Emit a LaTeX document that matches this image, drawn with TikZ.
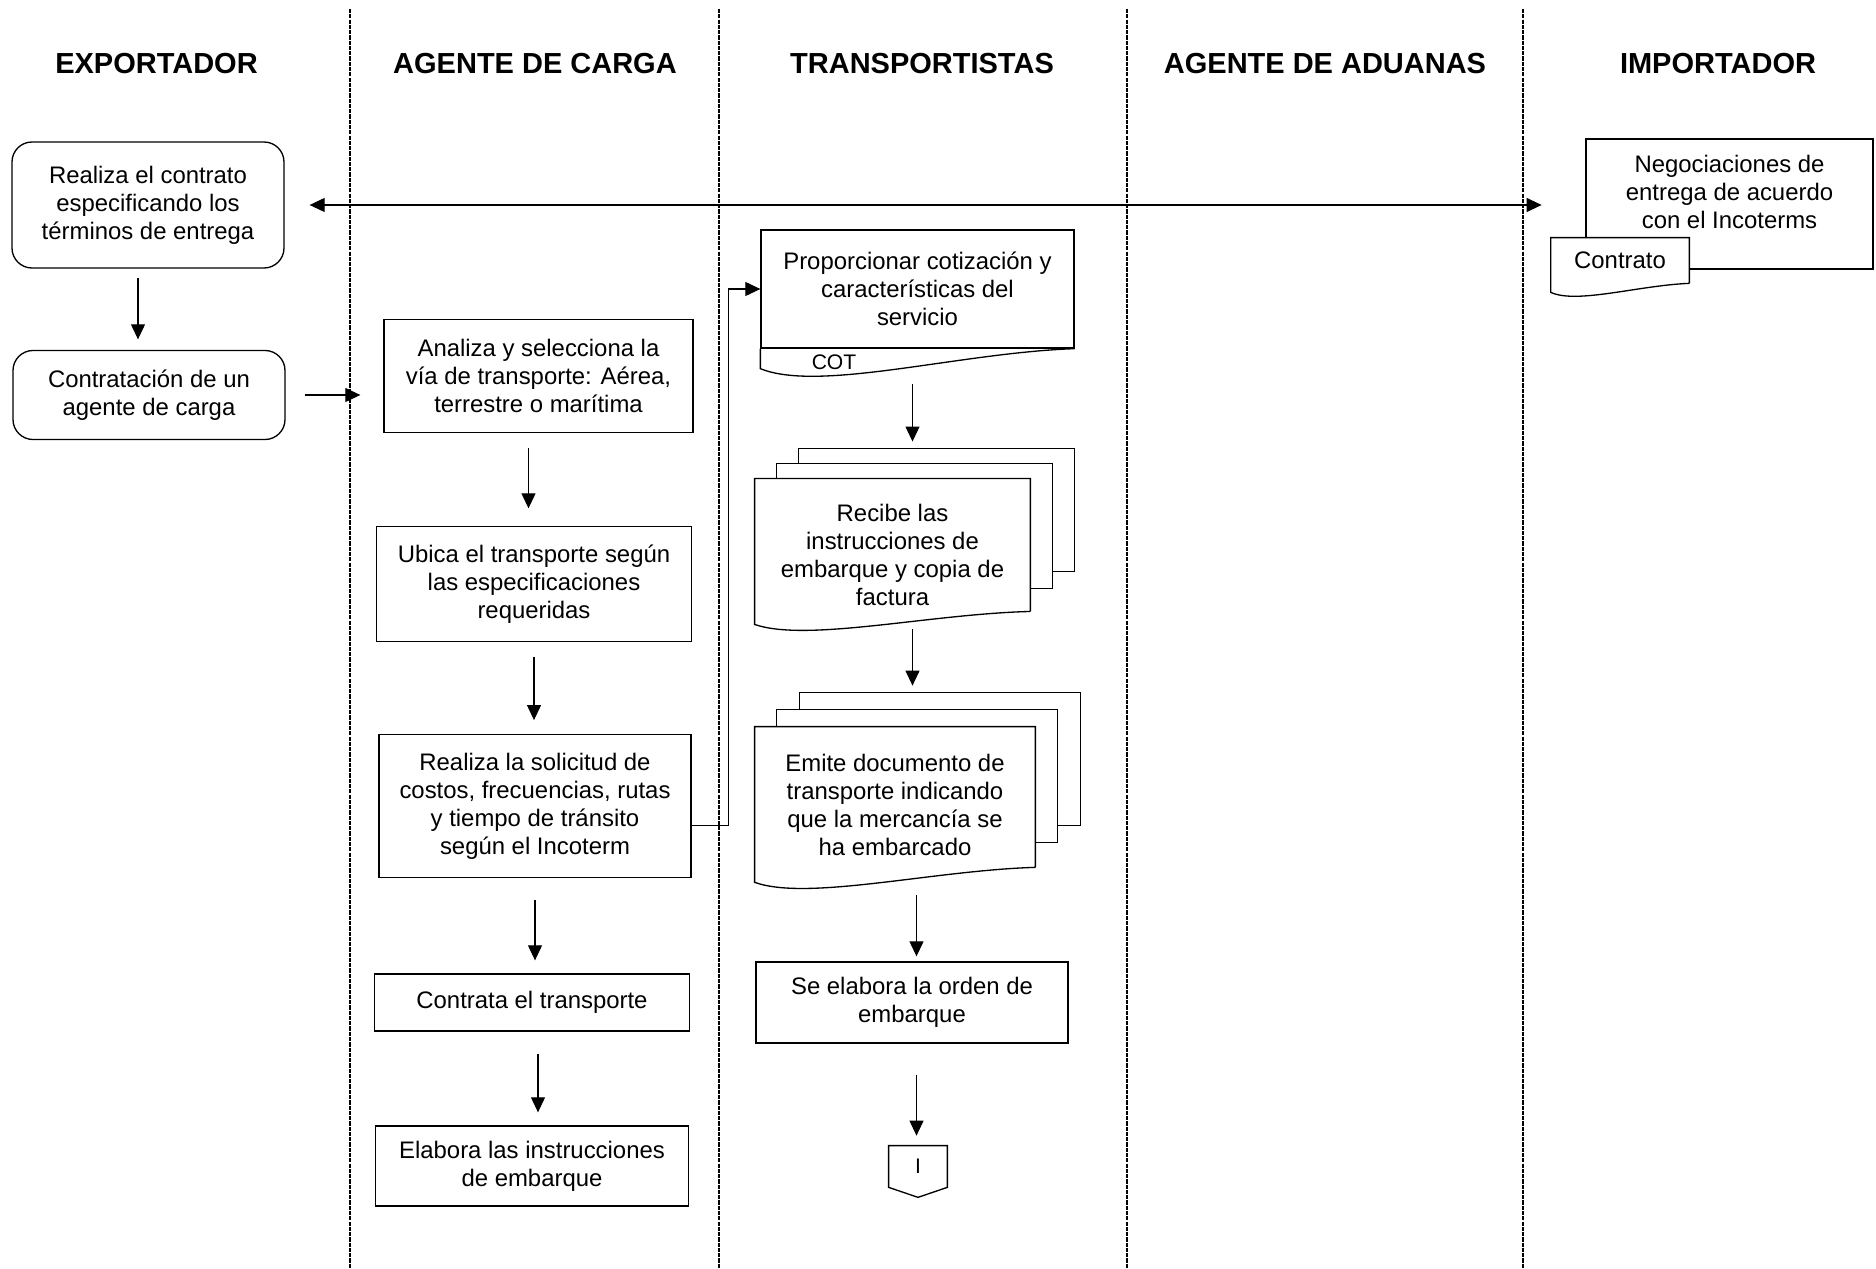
\documentclass[tikz,border=0pt]{standalone}
\usepackage{fontspec}
\setmainfont{Liberation Sans}
\usepackage{tikz}
\usetikzlibrary{arrows.meta, positioning, calc}

\begin{document}
\begin{tikzpicture}[
        carril/.style={line width=1.2pt, dash pattern=on 2.4pt off 0.6pt},
        titulo/.style={font=\fontsize{16.5}{19}\selectfont\bfseries},
        proceso/.style={draw, line width=0.75pt, align=center, font=\fontsize{13.6}{15.9}\selectfont},
        redondo/.style={proceso, rounded corners=0.4cm},
        hoja/.style={align=center, font=\fontsize{13.6}{15.9}\selectfont},
        rotulo/.style={font=\fontsize{12}{14}\selectfont},
        borde/.style={line width=0.75pt},
        flecha/.style={-{Triangle[length=0.3cm,width=0.28cm]}, line width=0.6pt},
        flechados/.style={flecha, {Triangle[length=0.3cm,width=0.28cm]}-{Triangle[length=0.3cm,width=0.28cm]}}]
        \useasboundingbox (0,0) rectangle (37.52,-25.38);

        % Lane headers
        \node[titulo] (hexp) at (3.13,-1.27) {EXPORTADOR};
        \node[titulo] (hcarga) at (10.70,-1.27) {AGENTE DE CARGA};
        \node[titulo] (htrans) at (18.44,-1.27) {TRANSPORTISTAS};
        \node[titulo] (hadu) at (26.50,-1.27) {AGENTE DE ADUANAS};
        \node[titulo] (himp) at (34.36,-1.27) {IMPORTADOR};

        % Lane dividers
        \draw[carril] (7.00,-0.18) -- (7.00,-25.38);
        \draw[carril] (14.38,-0.18) -- (14.38,-25.38);
        \draw[carril] (22.54,-0.18) -- (22.54,-25.38);
        \draw[carril] (30.46,-0.18) -- (30.46,-25.38);

        % Exportador
        \node[redondo, minimum width=5.44cm, minimum height=2.52cm] (realiza) at (2.96,-4.10) {Realiza el contrato\\especificando los\\términos de entrega};
        \node[redondo, minimum width=5.44cm, minimum height=1.78cm] (contratacion) at (2.98,-7.90) {Contratación de un\\agente de carga};

        % Agente de carga
        \node[proceso, minimum width=6.18cm, minimum height=2.27cm] (analiza) at (10.77,-7.52) {Analiza y selecciona la\\vía de transporte: Aérea,\\terrestre o marítima};
        \node[proceso, minimum width=6.29cm, minimum height=2.30cm] (ubica) at (10.68,-11.68) {Ubica el transporte según\\las especificaciones\\requeridas};
        \node[proceso, minimum width=6.24cm, minimum height=2.87cm] (solicitud) at (10.70,-16.12) {Realiza la solicitud de\\costos, frecuencias, rutas\\y tiempo de tránsito\\según el Incoterm};
        \node[proceso, minimum width=6.29cm, minimum height=1.14cm] (contrata) at (10.64,-20.05) {Contrata el transporte};
        \node[proceso, minimum width=6.27cm, minimum height=1.60cm] (elabora) at (10.64,-23.32) {Elabora las instrucciones\\de embarque};

        % Transportistas
        \node[proceso, minimum width=6.26cm, minimum height=2.36cm] (cotiza) at (18.35,-5.78) {Proporcionar cotización y\\características del\\servicio};
        \draw[borde] (cotiza.south west) -- ([yshift=-0.4cm]cotiza.south west) .. controls ([shift={(1.18,-0.88)}]cotiza.south west) and ([shift={(3.98,-0.08)}]cotiza.south west) .. (cotiza.south east);
        \node[rotulo] (cot) at (16.68,-7.25) {COT};

        \node[hoja, minimum width=5.5cm, minimum height=2.6cm] (recibe) at (17.85,-10.90) {\mbox{}\\[0.17cm]Recibe las\\instrucciones de\\embarque y copia de\\factura};
        \draw[borde] (recibe.south east) -- (recibe.north east) -- (recibe.north west) -- ([yshift=-0.26cm]recibe.south west) .. controls ([shift={(1.04,-0.62)}]recibe.south west) and ([shift={(3.5,-0.05)}]recibe.south west) .. (recibe.south east);
        \draw[borde] ([xshift=0.44cm]recibe.north west) |- ([shift={(0.44cm,0.3cm)}]recibe.north east) |- ([yshift=0.46cm]recibe.south east);
        \draw[borde] ([shift={(0.88cm,0.3cm)}]recibe.north west) |- ([shift={(0.88cm,0.6cm)}]recibe.north east) |- ([shift={(0.44cm,0.8cm)}]recibe.south east);

        \node[hoja, minimum width=5.6cm, minimum height=2.8cm] (emite) at (17.90,-15.94) {\mbox{}\\[0.11cm]Emite documento de\\transporte indicando\\que la mercancía se\\ha embarcado};
        \draw[borde] (emite.south east) -- (emite.north east) -- (emite.north west) -- ([yshift=-0.3cm]emite.south west) .. controls ([shift={(1.06,-0.68)}]emite.south west) and ([shift={(3.57,-0.06)}]emite.south west) .. (emite.south east);
        \draw[borde] ([xshift=0.44cm]emite.north west) |- ([shift={(0.44cm,0.34cm)}]emite.north east) |- ([yshift=0.5cm]emite.south east);
        \draw[borde] ([shift={(0.9cm,0.34cm)}]emite.north west) |- ([shift={(0.9cm,0.68cm)}]emite.north east) |- ([shift={(0.44cm,0.84cm)}]emite.south east);

        \node[proceso, minimum width=6.24cm, minimum height=1.62cm] (orden) at (18.24,-20.05) {Se elabora la orden de\\embarque};
        \node[rotulo, minimum width=1.16cm, minimum height=0.82cm] (conector) at (18.36,-23.33) {I};
        \draw[borde] (conector.south west) |- (conector.north east) -- (conector.south east) -- ([yshift=-0.2cm]conector.south) -- cycle;

        % Importador
        \node[proceso, minimum width=5.74cm, minimum height=2.6cm] (negocia) at (34.59,-4.08) {Negociaciones de\\entrega de acuerdo\\con el Incoterms\\[-0.06cm]\mbox{}};
        \node[hoja, fill=white, minimum width=2.76cm, minimum height=0.9cm] (contrato) at (32.40,-5.21) {Contrato};
        \draw[borde] (contrato.south east) -- (contrato.north east) -- (contrato.north west) -- ([yshift=-0.18cm]contrato.south west) .. controls ([shift={(0.52,-0.42)}]contrato.south west) and ([shift={(1.76,-0.04)}]contrato.south west) .. (contrato.south east);

        % Connecting arrows
        \draw[flechados, shorten <=0.5cm, shorten >=0.18cm] (realiza.east) -- (realiza.east -| contrato.west);
        \draw[flecha, shorten <=0.19cm, shorten >=0.21cm] ([xshift=-0.2cm]realiza.south) -- ([xshift=-0.2cm]realiza.south |- contratacion.north);
        \draw[flecha, shorten <=0.38cm, shorten >=0.46cm] (contratacion.east) -- (contratacion.east -| analiza.west);
        \draw[flecha, shorten <=0.29cm, shorten >=0.35cm] ([xshift=-0.2cm]analiza.south) -- ([xshift=-0.2cm]analiza.south |- ubica.north);
        \draw[flecha, shorten <=0.29cm, shorten >=0.27cm] (ubica.south) -- (ubica.south |- solicitud.north);
        \draw[flecha, shorten <=0.44cm, shorten >=0.26cm] (solicitud.south) -- (solicitud.south |- contrata.north);
        \draw[flecha, shorten <=0.44cm, shorten >=0.26cm] ([xshift=0.12cm]contrata.south) -- ([xshift=0.12cm]contrata.south |- elabora.north);
        \draw[flecha] ([yshift=-0.39cm]solicitud.east) -- ++(0.73,0) |- (cotiza.west);
        \draw[flecha, shorten <=0.7cm, shorten >=0.74cm] ([xshift=-0.1cm]cotiza.south) -- ([xshift=-0.1cm]cotiza.south |- recibe.north);
        \draw[flecha, shorten <=0.36cm, shorten >=0.82cm] ([xshift=0.4cm]recibe.south) -- ([xshift=0.4cm]recibe.south |- emite.north);
        \draw[flecha, shorten <=0.56cm, shorten >=0.1cm] ([xshift=0.09cm]orden.north |- emite.south) -- ([xshift=0.09cm]orden.north);
        \draw[flecha, shorten <=0.62cm, shorten >=0.2cm] ([xshift=0.09cm]orden.south) -- ([xshift=0.09cm]orden.south |- conector.north);
    \end{tikzpicture}
\end{document}
